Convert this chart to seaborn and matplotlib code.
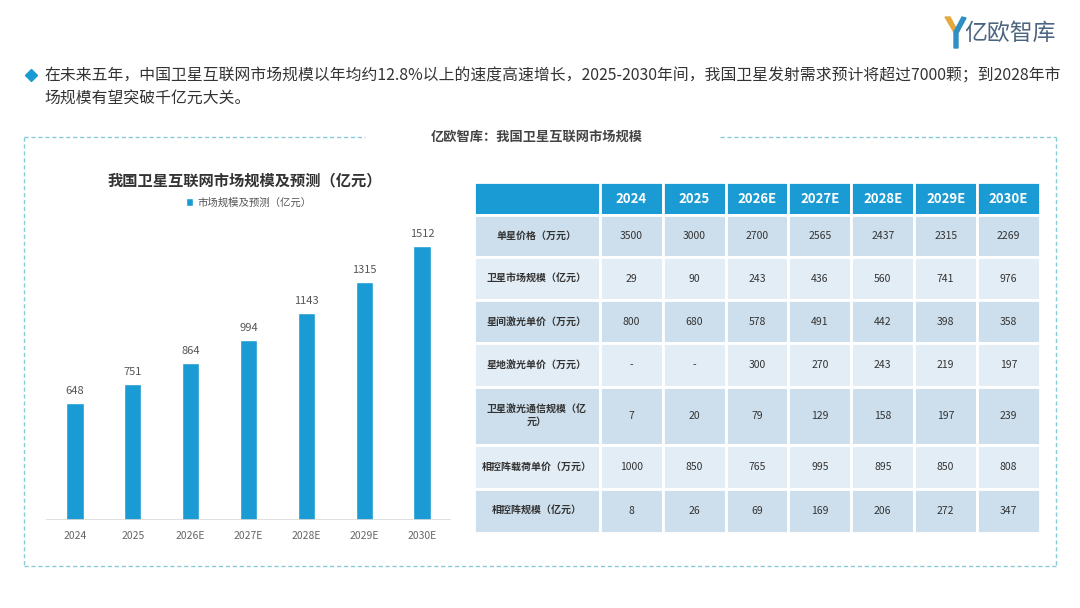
import matplotlib
matplotlib.use("Agg")
import matplotlib.pyplot as plt
import seaborn as sns
from matplotlib.lines import Line2D
from matplotlib.patches import Polygon

# ---- data ----
years = ["2024", "2025", "2026E", "2027E", "2028E", "2029E", "2030E"]
market_size = [648, 751, 864, 994, 1143, 1315, 1512]

row_labels = ["单星价格（万元）", "卫星市场规模（亿元）", "星间激光单价（万元）",
              "星地激光单价（万元）", "卫星激光通信规模（亿\n元）",
              "相控阵载荷单价（万元）", "相控阵规模（亿元）"]
sat_price = [3500, 3000, 2700, 2565, 2437, 2315, 2269]
sat_market = [29, 90, 243, 436, 560, 741, 976]
isl_price = [800, 680, 578, 491, 442, 398, 358]
sgl_price = [None, None, 300, 270, 243, 219, 197]
laser_market = [7, 20, 79, 129, 158, 197, 239]
pa_price = [1000, 850, 765, 995, 895, 850, 808]
pa_market = [8, 26, 69, 169, 206, 272, 347]
table_rows = [sat_price, sat_market, isl_price, sgl_price, laser_market, pa_price, pa_market]

headline = ("在未来五年，中国卫星互联网市场规模以年均约12.8%以上的速度高速增长，2025-2030年间，我国卫星发射需求预计将超过7000颗；到2028年市\n"
            "场规模有望突破千亿元大关。")
box_title = "亿欧智库：我国卫星互联网市场规模"
chart_title = "我国卫星互联网市场规模及预测（亿元）"
legend_label = "市场规模及预测（亿元）"

BLUE = "#1a9bd3"
DARK_ROW = "#cddfed"
LIGHT_ROW = "#e3edf6"
DASH = "#86ccd6"

W, H = 1080, 608
sns.set_theme(style="white")
plt.rcParams["font.family"] = ["Noto Sans CJK SC", "DejaVu Sans"]

fig = plt.figure(figsize=(W / 100, H / 100), dpi=100)
fig.patch.set_facecolor("white")


def fx(px):
    return px / W


def fy(py):
    return 1 - py / H


# ---- headline ----
fig.add_artist(Line2D([fx(31)], [fy(75)], marker="D", markersize=6, color=BLUE,
                      transform=fig.transFigure))
fig.text(fx(44), fy(68), headline, fontsize=11.4, color="#333333", va="top",
         ha="left", linespacing=1.45, transform=fig.transFigure)

# ---- logo ----
fig.add_artist(Polygon([[fx(945), fy(17)], [fx(950), fy(17)], [fx(957), fy(30)],
                        [fx(955), fy(34)]], closed=True, color="#e3a93b",
                       transform=fig.transFigure))
fig.add_artist(Polygon([[fx(962), fy(17)], [fx(966), fy(18)], [fx(958), fy(33)],
                        [fx(958), fy(48)], [fx(954), fy(48)], [fx(954), fy(32)]],
                       closed=True, color="#2f8fc4", transform=fig.transFigure))
fig.text(fx(964), fy(33), "亿欧智库", fontsize=16.5, color="#4b6580",
         va="center", ha="left")

# ---- dashed frame ----
dash_kw = dict(color=DASH, lw=1, ls=(0, (3, 2)), transform=fig.transFigure)
fig.add_artist(Line2D([fx(24), fx(365)], [fy(137), fy(137)], **dash_kw))
fig.add_artist(Line2D([fx(720), fx(1056)], [fy(137), fy(137)], **dash_kw))
fig.add_artist(Line2D([fx(24), fx(1056)], [fy(566), fy(566)], **dash_kw))
fig.add_artist(Line2D([fx(24), fx(24)], [fy(137), fy(566)], **dash_kw))
fig.add_artist(Line2D([fx(1056), fx(1056)], [fy(137), fy(566)], **dash_kw))
fig.text(fx(537), fy(137), box_title, fontsize=9.5, fontweight="bold",
         color="#444444", ha="center", va="center")

# ---- bar chart ----
ax = fig.add_axes([fx(46), fy(520), (451 - 46) / W, (520 - 215) / H])
sns.barplot(x=years, y=market_size, color=BLUE, saturation=1, width=0.3,
            ax=ax, label=legend_label)
ax.set_ylim(0, 1683)
ax.set_xlim(-0.5, 6.5)
for s in ax.spines.values():
    s.set_visible(False)
ax.axhline(0, color="#d9d9d9", lw=1.2)
ax.set_yticks([])
ax.set_xlabel("")
ax.set_ylabel("")
ax.tick_params(axis="x", length=0, pad=8, labelsize=7.5, labelcolor="#666666")
ax.bar_label(ax.containers[0], padding=5, fontsize=8, color="#555555")
ax.legend(loc="lower center", bbox_to_anchor=(0.5, 1.0), frameon=False,
          fontsize=7.5, handlelength=0.7, handleheight=0.7, handletextpad=0.4,
          labelcolor="#555555", borderaxespad=0.3)
fig.text(fx(245), fy(180), chart_title, fontsize=11, fontweight="bold",
         color="#333333", ha="center", va="center")

# ---- table ----
tab_ax = fig.add_axes([fx(474), fy(533), (1040 - 474) / W, (533 - 182) / H])
tab_ax.axis("off")
cell_text = [[""] + years]
for lab, row in zip(row_labels, table_rows):
    cell_text.append([lab] + ["-" if v is None else str(v) for v in row])
tbl = tab_ax.table(cellText=cell_text, cellLoc="center", bbox=[0, 0, 1, 1])
tbl.auto_set_font_size(False)
col_w = [126] + [63] * 7
row_h = [33, 42, 43, 43, 43, 58, 44, 44]
for (r, c), cell in tbl.get_celld().items():
    cell.set_width(col_w[c])
    cell.set_height(row_h[r])
    cell.set_edgecolor("white")
    cell.set_linewidth(2)
    txt = cell.get_text()
    if r == 0:
        cell.set_facecolor(BLUE)
        txt.set_color("white")
        txt.set_fontsize(9.5)
        txt.set_fontweight("bold")
    else:
        cell.set_facecolor(DARK_ROW if r % 2 == 1 else LIGHT_ROW)
        txt.set_color("#333333")
        txt.set_fontsize(7.5)
        if c == 0:
            txt.set_fontweight("bold")
            txt.set_fontsize(7.2)
            txt.set_linespacing(1.3)

fig.savefig("out.png", dpi=100, facecolor="white")
